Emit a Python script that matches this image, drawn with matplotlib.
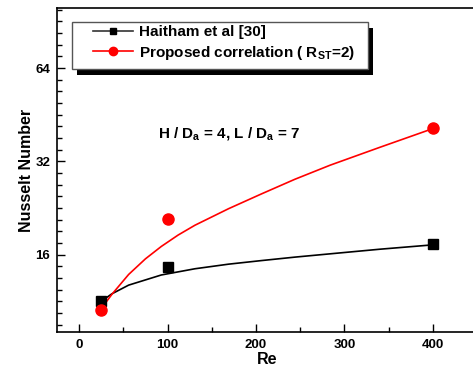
import numpy as np
import matplotlib
matplotlib.use('Agg')
import matplotlib.pyplot as plt
from matplotlib.lines import Line2D
from matplotlib.patches import Rectangle
from matplotlib.ticker import FixedLocator, NullFormatter

plt.rcParams['font.family'] = ['Liberation Sans', 'DejaVu Sans']
plt.rcParams['font.weight'] = 'bold'
plt.rcParams['mathtext.fontset'] = 'custom'
plt.rcParams['mathtext.rm'] = 'Liberation Sans:bold'
plt.rcParams['mathtext.it'] = 'Liberation Sans:bold'
plt.rcParams['mathtext.bf'] = 'Liberation Sans:bold'

# measured points
re_pts = [25, 100, 400]
nu_haitham = [11.3, 14.6, 17.3]
nu_proposed = [10.6, 20.8, 41.0]

# fitted curves
re_fit_black = [25, 37, 56, 93, 131, 169, 206, 244, 290, 340, 400]
nu_fit_black = [11.3, 11.95, 12.75, 13.75, 14.4, 14.9, 15.3, 15.7, 16.15, 16.65, 17.2]
re_fit_red = [25, 37, 56, 75, 93, 112, 131, 169, 206, 244, 284, 340, 400]
nu_fit_red = [10.7, 11.9, 13.8, 15.5, 17.0, 18.5, 19.9, 22.5, 25.1, 28.0, 31.1, 35.5, 40.8]

x_ticks = [0, 100, 200, 300, 400]
y_ticks = [16, 32, 64]

fig = plt.figure(figsize=(4.73, 3.67), dpi=100)
ax = fig.add_axes([57 / 473, 35 / 367, 420 / 473, 324 / 367])

ax.plot(re_fit_black, nu_fit_black, color='black', lw=1.2, zorder=2)
ax.plot(re_fit_red, nu_fit_red, color='red', lw=1.2, zorder=2)
ax.plot(re_pts, nu_haitham, ls='none', marker='s', ms=7.5, color='black', zorder=3)
ax.plot(re_pts, nu_proposed, ls='none', marker='o', ms=8, color='red', zorder=3)

ax.set_yscale('log', base=2)
ax.set_xlim(-25, 450)
ax.set_ylim(9, 100)

ax.set_xticks(x_ticks)
ax.set_xticks(np.arange(50, 450, 100), minor=True)
ax.set_yticks(y_ticks)
ax.set_yticklabels([str(v) for v in y_ticks])
# 7 minor ticks per doubling, evenly spaced on the log axis
minor_y = [2 ** (k + j / 8) for k in range(3, 7) for j in range(1, 8)]
ax.yaxis.set_minor_locator(FixedLocator(minor_y))
ax.yaxis.set_minor_formatter(NullFormatter())

ax.tick_params(which='both', direction='in', labelsize=9.5, width=1, pad=5)
ax.tick_params(which='major', length=6)
ax.tick_params(which='minor', length=3.5)
for lbl in ax.get_xticklabels() + ax.get_yticklabels():
    lbl.set_fontweight('bold')
for sp in ax.spines.values():
    sp.set_linewidth(1.2)

ax.set_xlabel('Re', fontsize=11.5, fontweight='bold', labelpad=1)
ax.set_ylabel('Nusselt Number', fontsize=11.5, fontweight='bold', labelpad=1)

ax.text((158 - 57) / 420, 1 - (134 - 8) / 324,
        r'H / D$_{\mathrm{a}}$ = 4, L / D$_{\mathrm{a}}$ = 7',
        transform=ax.transAxes, fontsize=11, fontweight='bold', va='center')

# legend box with a solid black shadow
bx0, bx1 = (72 - 57) / 420, (368 - 57) / 420
by0, by1 = 1 - (69 - 8) / 324, 1 - (22 - 8) / 324
ax.add_patch(Rectangle((bx0 + 5 / 420, by0 - 6 / 324), bx1 - bx0, by1 - by0,
                       transform=ax.transAxes, facecolor='black', edgecolor='none', zorder=4))
ax.add_patch(Rectangle((bx0, by0), bx1 - bx0, by1 - by0, transform=ax.transAxes,
                       facecolor='white', edgecolor='#555555', lw=1, zorder=4.5))

handles = [Line2D([], [], color='#333333', lw=1.2, marker='s', ms=5, mfc='black', mec='black'),
           Line2D([], [], color='red', lw=1.2, marker='o', ms=6, mfc='red', mec='red')]
labels = ['Haitham et al [30]', r'Proposed correlation ( R$_{\mathrm{ST}}$=2)']
leg = ax.legend(handles, labels, loc='upper left', bbox_to_anchor=((93 - 57) / 420, 1 - (25 - 8) / 324),
                frameon=False, borderpad=0, borderaxespad=0, handlelength=2.6, handletextpad=0.4,
                labelspacing=0.3, prop={'weight': 'bold', 'size': 11})
leg.set_zorder(5)

fig.savefig('out.png', dpi=100)
